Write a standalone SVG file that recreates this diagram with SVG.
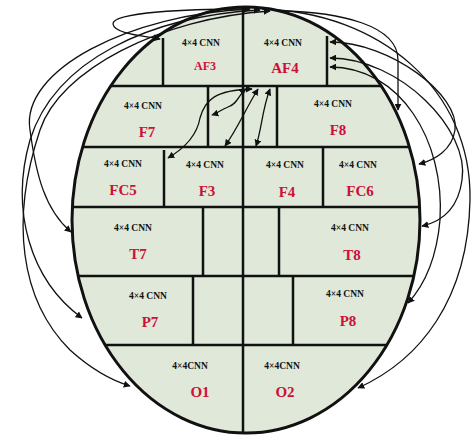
<svg xmlns="http://www.w3.org/2000/svg" width="472" height="437" viewBox="0 0 472 437">
<style>
.cnn{font-family:"Liberation Serif","Times New Roman",serif;font-weight:bold;font-size:9.5px;fill:#111;text-anchor:middle}
.lbl{font-family:"Liberation Serif","Times New Roman",serif;font-weight:bold;font-size:15px;fill:#cc1038;text-anchor:middle}
.grid{stroke:#111;stroke-width:2.5;fill:none}
.con{stroke:#111;stroke-width:1.3;fill:none}
</style>
<defs>
<clipPath id="clip"><ellipse cx="246" cy="220" rx="174" ry="213"/></clipPath>
<marker id="ah" viewBox="0 0 10 10" refX="9" refY="5" markerWidth="7" markerHeight="7" markerUnits="userSpaceOnUse" orient="auto-start-reverse"><path d="M0,0 L10,5 L0,10 z" fill="#111"/></marker>
</defs>
<rect width="472" height="437" fill="#fff"/>
<ellipse cx="246" cy="220" rx="174" ry="213" fill="#dfe8d9"/>
<g id="grid" clip-path="url(#clip)" class="grid">
<line x1="60" y1="86" x2="440" y2="86"/>
<line x1="60" y1="147" x2="440" y2="147"/>
<line x1="60" y1="207" x2="440" y2="207"/>
<line x1="60" y1="276" x2="440" y2="276"/>
<line x1="60" y1="345" x2="440" y2="345"/>
<line x1="243" y1="0" x2="243" y2="437"/>
<line x1="163" y1="38" x2="163" y2="86"/>
<line x1="327" y1="36" x2="327" y2="86"/>
<line x1="208" y1="86" x2="208" y2="147"/>
<line x1="277" y1="86" x2="277" y2="147"/>
<line x1="164" y1="150" x2="164" y2="207"/>
<line x1="323" y1="147" x2="323" y2="207"/>
<line x1="203" y1="207" x2="203" y2="276"/>
<line x1="279" y1="207" x2="279" y2="276"/>
<line x1="193" y1="276" x2="193" y2="345"/>
<line x1="293" y1="276" x2="293" y2="345"/>
</g>
<ellipse cx="246" cy="220" rx="174" ry="213" fill="none" stroke="#111" stroke-width="3"/>
<g id="AF3"><text class="cnn" x="201" y="46">4×4 CNN</text><text class="lbl" style="font-size:12px" x="205" y="70">AF3</text></g>
<g id="AF4"><text class="cnn" x="283" y="46">4×4 CNN</text><text class="lbl" x="285" y="73">AF4</text></g>
<g id="F7"><text class="cnn" x="143" y="109">4×4 CNN</text><text class="lbl" x="147" y="137">F7</text></g>
<g id="F8"><text class="cnn" x="333" y="107">4×4 CNN</text><text class="lbl" x="338" y="135">F8</text></g>
<g id="FC5"><text class="cnn" x="123" y="167">4×4 CNN</text><text class="lbl" x="123" y="195">FC5</text></g>
<g id="F3"><text class="cnn" x="205" y="168">4×4 CNN</text><text class="lbl" x="207" y="196">F3</text></g>
<g id="F4"><text class="cnn" x="285" y="168">4×4 CNN</text><text class="lbl" x="287" y="197">F4</text></g>
<g id="FC6"><text class="cnn" x="358" y="168">4×4 CNN</text><text class="lbl" x="360" y="196">FC6</text></g>
<g id="T7"><text class="cnn" x="133" y="231">4×4 CNN</text><text class="lbl" x="138" y="259">T7</text></g>
<g id="T8"><text class="cnn" x="350" y="231">4×4 CNN</text><text class="lbl" x="352" y="260">T8</text></g>
<g id="P7"><text class="cnn" x="148" y="299">4×4 CNN</text><text class="lbl" x="150" y="327">P7</text></g>
<g id="P8"><text class="cnn" x="345" y="297">4×4 CNN</text><text class="lbl" x="348" y="326">P8</text></g>
<g id="O1"><text class="cnn" x="190" y="369">4×4CNN</text><text class="lbl" x="200" y="397">O1</text></g>
<g id="O2"><text class="cnn" x="282" y="369">4×4CNN</text><text class="lbl" x="285" y="397">O2</text></g>
<g id="connectors" class="con">
<path d="M243,9 C190,9 112,12 113,24 C114,34 145,36 160,39" marker-end="url(#ah)"/>
<path d="M250,9 C130,14 20,70 30,130 C36,175 45,210 71,232" marker-start="url(#ah)" marker-end="url(#ah)"/>
<path d="M260,10 C150,16 55,60 30,140 C10,210 30,280 82,318" marker-start="url(#ah)" marker-end="url(#ah)"/>
<path d="M270,11 C160,18 60,70 40,130 C10,220 20,300 70,350 C90,368 110,380 130,386" marker-start="url(#ah)" marker-end="url(#ah)"/>
<path d="M280,11 C340,12 398,25 398,60 L398,110" marker-end="url(#ah)"/>
<path d="M330,42 C390,42 460,95 455,130 C452,150 435,160 419,164" marker-start="url(#ah)" marker-end="url(#ah)"/>
<path d="M330,58 C400,58 470,130 462,180 C458,210 440,222 422,226" marker-start="url(#ah)" marker-end="url(#ah)"/>
<path d="M330,67 C400,67 445,140 440,220 C436,265 420,290 408,303" marker-start="url(#ah)" marker-end="url(#ah)"/>
<path d="M262,9 C380,12 472,90 470,200 C468,300 420,360 358,388" marker-end="url(#ah)"/>
<path d="M246,89 C238,95 238,104 228,107 C220,110 218,113 212,115" marker-start="url(#ah)" marker-end="url(#ah)"/>
<path d="M252,89 C215,90 205,100 200,118 C197,135 185,148 168,158" marker-start="url(#ah)" marker-end="url(#ah)"/>
<path d="M258,89 C245,110 238,128 225,146" marker-start="url(#ah)" marker-end="url(#ah)"/>
<path d="M270,89 C262,110 262,128 256,146" marker-start="url(#ah)" marker-end="url(#ah)"/>
</g>
</svg>
